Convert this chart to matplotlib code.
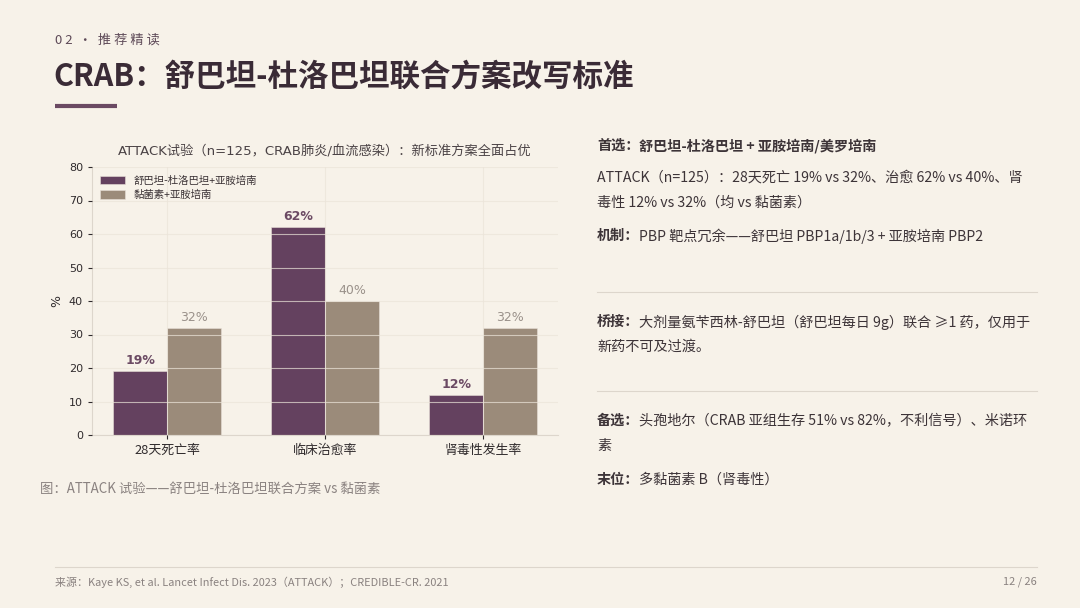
import numpy as np
import matplotlib
matplotlib.use("Agg")
import matplotlib.pyplot as plt

# data
categories = ["28天死亡率", "临床治愈率", "肾毒性发生率"]
new_regimen = [19, 62, 12]
colistin = [32, 40, 32]
series_names = ["舒巴坦-杜洛巴坦+亚胺培南", "黏菌素+亚胺培南"]

BG = "#f7f2e9"
PURPLE = "#64415f"
TAUPE = "#9b8b7a"
DARK = "#3a2b36"
TEXT = "#3d3438"
GRAY = "#8a8280"

CJK = ["Noto Sans CJK SC", "DejaVu Sans"]
CHART_FONT = ["DejaVu Sans", "Noto Sans CJK SC"]

fig = plt.figure(figsize=(10.8, 6.08), dpi=100, facecolor=BG)

# header
fig.text(55/1080, 1-40/608, "0 2  ·  推 荐 精 读", family=CJK, fontsize=9.5,
         color="#5e4a58", va="center", ha="left")
fig.text(53/1080, 1-77/608, "CRAB：舒巴坦-杜洛巴坦联合方案改写标准", family=CJK,
         fontsize=22, fontweight="bold", color=DARK, va="center", ha="left")
fig.add_artist(plt.Line2D([55/1080, 117/1080], [1-106/608, 1-106/608],
                          color="#6b4a63", lw=3, solid_capstyle="butt"))

# chart
ax = fig.add_axes([92/1080, 1-435/608, (558-92)/1080, (435-167)/608])
ax.set_facecolor(BG)
x = np.arange(len(categories))
w = 0.34
b1 = ax.bar(x - w/2, new_regimen, w, color=PURPLE, edgecolor="#e8e0d8",
            linewidth=0.4, label=series_names[0])
b2 = ax.bar(x + w/2, colistin, w, color=TAUPE, edgecolor="#e8e0d8",
            linewidth=0.4, label=series_names[1])
for r, v in zip(b1, new_regimen):
    ax.text(r.get_x() + r.get_width()/2, v + 1.2, f"{v}%", ha="center",
            va="bottom", fontsize=9, fontweight="bold", color="#6b4a63",
            family=CHART_FONT)
for r, v in zip(b2, colistin):
    ax.text(r.get_x() + r.get_width()/2, v + 1.2, f"{v}%", ha="center",
            va="bottom", fontsize=9, color="#9a918a", family=CHART_FONT)

ax.set_ylim(0, 80)
ax.set_yticks(range(0, 81, 10))
ax.set_xticks(x)
ax.set_xticklabels(categories, family=CJK, fontsize=9.3, color="#2f2a2c")
for lab in ax.get_yticklabels():
    lab.set_fontfamily(CHART_FONT)
ax.tick_params(axis="y", labelsize=8, colors="#2f2a2c", length=3, width=0.8)
ax.tick_params(axis="x", length=3, width=0.8, colors="#2f2a2c")
ax.grid(True, color="#ebe4d9", lw=0.8, alpha=0.7)
ax.set_axisbelow(False)
for s in ["top", "right"]:
    ax.spines[s].set_visible(False)
for s in ["left", "bottom"]:
    ax.spines[s].set_color("#ddd6cc")
    ax.spines[s].set_linewidth(0.8)
ax.set_ylabel("%", family=CHART_FONT, fontsize=9, color="#2f2a2c", labelpad=4)
ax.set_title("ATTACK试验（n=125，CRAB肺炎/血流感染）：新标准方案全面占优",
             family=CHART_FONT, fontsize=9.5, color="#4a4245", pad=8)
leg = ax.legend(loc="upper left", frameon=False, prop={"family": CJK, "size": 7.5},
                handlelength=2.4, handleheight=0.9, borderaxespad=0.4,
                labelspacing=0.4)
for t in leg.get_texts():
    t.set_color("#3a3235")

fig.text(40/1080, 1-489/608, "图：ATTACK 试验——舒巴坦-杜洛巴坦联合方案 vs 黏菌素",
         family=CJK, fontsize=9.6, color=GRAY, va="center", ha="left")

# right text column
tx = 597/1080
FS = 10.2
def line(y, label, rest, bold_all=False):
    if label:
        t = fig.text(tx, 1-y/608, label, family=CJK, fontsize=FS,
                     fontweight="bold", color=TEXT, va="center", ha="left")
        fig.canvas.draw()
        bb = t.get_window_extent()
        x2 = bb.x1 / fig.bbox.width
    else:
        x2 = tx
    fig.text(x2, 1-y/608, rest, family=CJK, fontsize=FS,
             fontweight="bold" if bold_all else "normal", color=TEXT,
             va="center", ha="left")

line(146, "首选：", "舒巴坦-杜洛巴坦 + 亚胺培南/美罗培南", bold_all=True)
line(178, None, "ATTACK（n=125）：28天死亡 19% vs 32%、治愈 62% vs 40%、肾")
line(203, None, "毒性 12% vs 32%（均 vs 黏菌素）")
line(236, "机制：", "PBP 靶点冗余——舒巴坦 PBP1a/1b/3 + 亚胺培南 PBP2")
line(322, "桥接：", "大剂量氨苄西林-舒巴坦（舒巴坦每日 9g）联合 ≥1 药，仅用于")
line(347, None, "新药不可及过渡。")
line(421, "备选：", "头孢地尔（CRAB 亚组生存 51% vs 82%，不利信号）、米诺环")
line(446, None, "素")
line(480, "末位：", "多黏菌素 B（肾毒性）")

for yy in (292, 391):
    fig.add_artist(plt.Line2D([597/1080, 1037/1080], [1-yy/608, 1-yy/608],
                              color="#ddd6cc", lw=0.8))

# footer
fig.add_artist(plt.Line2D([55/1080, 1037/1080], [1-567/608, 1-567/608],
                          color="#ddd6cc", lw=0.8))
fig.text(55/1080, 1-582/608,
         "来源：Kaye KS, et al. Lancet Infect Dis. 2023（ATTACK）；CREDIBLE-CR. 2021",
         family=CJK, fontsize=7.9, color=GRAY, va="center", ha="left")
fig.text(1037/1080, 1-582/608, "12 / 26", family=CJK, fontsize=7.9, color=GRAY,
         va="center", ha="right")

fig.savefig("out.png", dpi=100, facecolor=BG)
